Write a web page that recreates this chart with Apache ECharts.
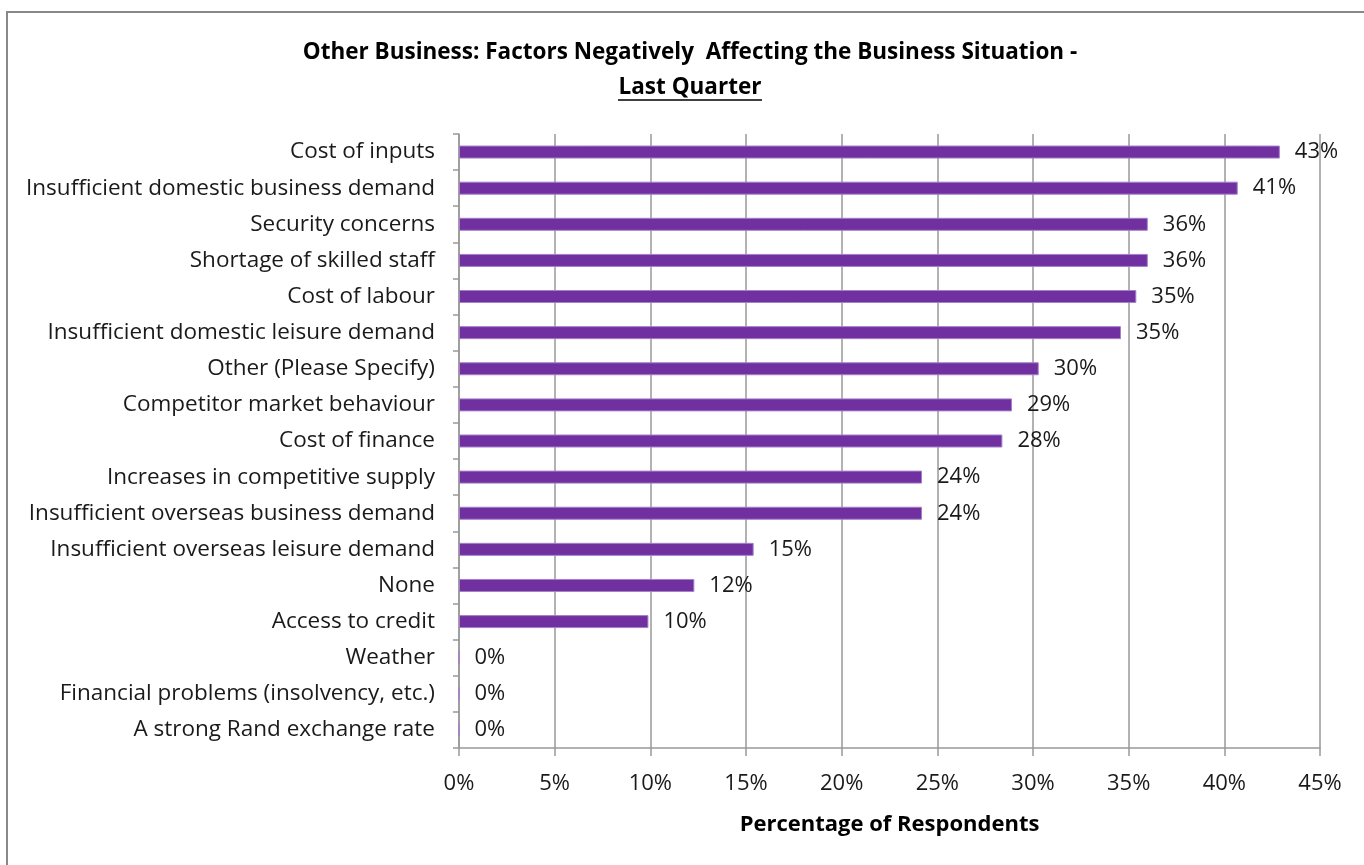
<!DOCTYPE html>
<html>
<head>
<meta charset="utf-8">
<script src="https://cdn.jsdelivr.net/npm/echarts@6/dist/echarts.min.js"></script>
<style>
  html, body { margin: 0; padding: 0; background: #fff; }
  #chart { width: 1364px; height: 865px; }
</style>
</head>
<body>
<div id="chart"></div>
<script>
// Factors negatively affecting the business situation, share of respondents (%)
const categories = [
  'Cost of inputs',
  'Insufficient domestic business demand',
  'Security concerns',
  'Shortage of skilled staff',
  'Cost of labour',
  'Insufficient domestic leisure demand',
  'Other (Please Specify)',
  'Competitor market behaviour',
  'Cost of finance',
  'Increases in competitive supply',
  'Insufficient overseas business demand',
  'Insufficient overseas leisure demand',
  'None',
  'Access to credit',
  'Weather',
  'Financial problems (insolvency, etc.)',
  'A strong Rand exchange rate'
];
const values = [42.9, 40.7, 36.0, 36.0, 35.4, 34.6, 30.3, 28.9, 28.4, 24.2, 24.2, 15.4, 12.3, 9.9, 0, 0, 0];
const xTicks = { min: 0, max: 45, interval: 5 };

const FONT = 'Open Sans';
const chart = echarts.init(document.getElementById('chart'), null, { renderer: 'canvas' });

chart.setOption({
  backgroundColor: '#ffffff',
  animation: false,
  textStyle: { fontFamily: FONT },
  graphic: [
    {
      type: 'rect',
      shape: { x: 7, y: 12, width: 1400, height: 900 },
      style: { fill: 'none', stroke: '#888888', lineWidth: 2 },
      silent: true
    },
    {
      type: 'text',
      x: 690,
      y: 41,
      style: {
        text: 'Other Business: Factors Negatively  Affecting the Business Situation -',
        font: 'bold 22.5px "' + FONT + '"',
        fill: '#000',
        align: 'center'
      }
    },
    {
      type: 'text',
      x: 690,
      y: 76,
      style: {
        text: 'Last Quarter',
        font: 'bold 22.5px "' + FONT + '"',
        fill: '#000',
        align: 'center'
      }
    },
    {
      type: 'line',
      shape: { x1: 618, y1: 100, x2: 762, y2: 100 },
      style: { stroke: '#000', lineWidth: 1.5 }
    }
  ],
  grid: { left: 459, right: 44, top: 134, bottom: 117, containLabel: false },
  xAxis: {
    type: 'value',
    min: xTicks.min,
    max: xTicks.max,
    interval: xTicks.interval,
    axisLine: { show: true, lineStyle: { color: '#999', width: 1.5 } },
    axisTick: { show: true, length: 8, lineStyle: { color: '#999', width: 1.5 } },
    splitLine: { show: true, lineStyle: { color: '#999', width: 1.5 } },
    axisLabel: {
      formatter: v => v + '%',
      color: '#1a1a1a',
      fontSize: 22,
      fontFamily: FONT,
      margin: 25
    },
    name: 'Percentage of Respondents',
    nameLocation: 'middle',
    nameGap: 66,
    nameTextStyle: { fontWeight: 'bold', fontSize: 22, color: '#000', fontFamily: FONT }
  },
  yAxis: {
    type: 'category',
    inverse: true,
    data: categories,
    axisLine: { show: true, lineStyle: { color: '#999', width: 1.5 } },
    axisTick: { show: true, length: 6, lineStyle: { color: '#999', width: 1.5 } },
    splitLine: { show: false },
    axisLabel: {
      color: '#1a1a1a',
      fontSize: 22.5,
      fontFamily: FONT,
      margin: 24,
      padding: [3, 0, 0, 0]
    }
  },
  series: [{
    type: 'bar',
    data: values,
    barWidth: 13,
    itemStyle: { color: '#7030A0', borderColor: '#A57FC8', borderWidth: 1 },
    label: {
      show: true,
      position: 'right',
      distance: 15,
      formatter: p => Math.round(p.value) + '%',
      color: '#1a1a1a',
      fontSize: 22,
      fontFamily: FONT,
      padding: [3, 0, 0, 0]
    }
  }]
});
</script>
</body>
</html>
